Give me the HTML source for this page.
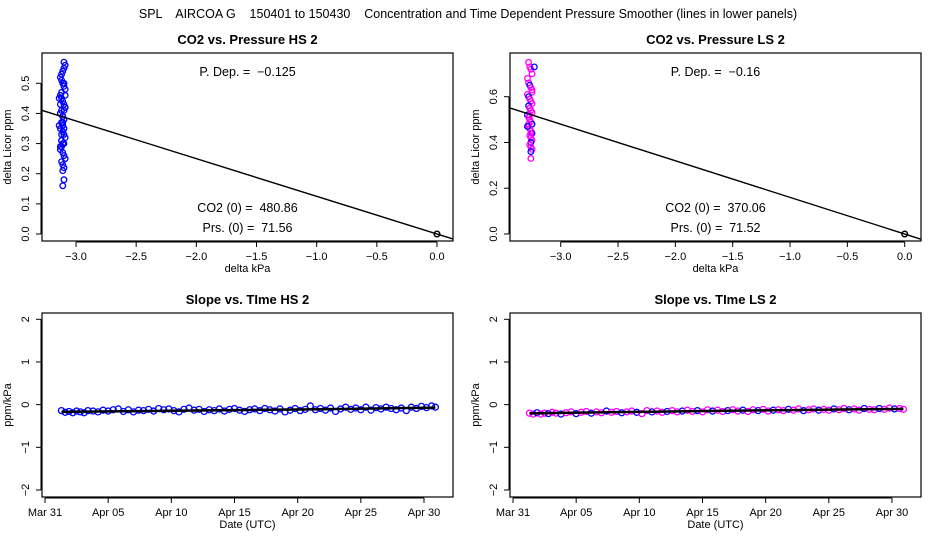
<!DOCTYPE html>
<html><head><meta charset="utf-8">
<style>
html,body{margin:0;padding:0;background:#fff;}
svg{display:block;font-family:"Liberation Sans",sans-serif;}
svg text{white-space:pre;}
</style></head>
<body>
<svg id="chart" width="936" height="540" viewBox="0 0 936 540" xmlns="http://www.w3.org/2000/svg" xml:space="preserve">
<rect width="936" height="540" fill="#fff"/>
<text x="468" y="18" font-size="12.5" text-anchor="middle">SPL    AIRCOA G    150401 to 150430    Concentration and Time Dependent Pressure Smoother (lines in lower panels)</text>
</svg>
<script>
// ---- data ----
const hsPresX = [-3.10,-3.09,-3.10,-3.11,-3.12,-3.13,-3.12,-3.11,-3.10,-3.09,-3.12,-3.13,-3.14,-3.11,-3.10,-3.09,-3.12,-3.13,-3.11,-3.10,-3.12,-3.14,-3.13,-3.11,-3.10,-3.09,-3.12,-3.11,-3.10,-3.12,-3.13,-3.11,-3.10,-3.09,-3.12,-3.11,-3.10,-3.11,-3.10,-3.11,-3.12,-3.10,-3.11,-3.12,-3.13,-3.11,-3.09,-3.13,-3.10,-3.12,-3.09,-3.11,-3.13,-3.10];
const hsCo2Y  = [0.57,0.56,0.55,0.54,0.53,0.52,0.51,0.50,0.49,0.48,0.47,0.46,0.45,0.44,0.43,0.42,0.41,0.40,0.39,0.38,0.37,0.36,0.35,0.34,0.33,0.32,0.31,0.30,0.30,0.29,0.28,0.27,0.26,0.25,0.24,0.23,0.22,0.21,0.18,0.16,0.45,0.41,0.37,0.33,0.43,0.39,0.46,0.40,0.35,0.31,0.42,0.36,0.29,0.50];
const lsPresX = [-3.28,-3.27,-3.26,-3.23,-3.25,-3.29,-3.28,-3.27,-3.26,-3.25,-3.29,-3.28,-3.27,-3.26,-3.25,-3.28,-3.27,-3.26,-3.25,-3.29,-3.28,-3.27,-3.26,-3.25,-3.28,-3.27,-3.26,-3.25,-3.27,-3.26,-3.25,-3.26,-3.27,-3.26,-3.25,-3.26,-3.28,-3.27,-3.26,-3.29,-3.25,-3.27,-3.26];
const lsCo2Y  = [0.75,0.73,0.72,0.73,0.70,0.68,0.66,0.65,0.64,0.62,0.61,0.60,0.59,0.58,0.57,0.56,0.55,0.54,0.53,0.52,0.51,0.50,0.49,0.48,0.47,0.46,0.45,0.44,0.43,0.42,0.41,0.40,0.39,0.38,0.37,0.36,0.48,0.55,0.33,0.47,0.63,0.52,0.44];
const hsSlopeFit = -0.125, lsSlopeFit = -0.16;
const tsDays = [1.3,1.6,1.9,2.2,2.5,2.8,3.1,3.4,3.8,4.2,4.6,5.0,5.4,5.8,6.2,6.6,7.0,7.4,7.8,8.2,8.6,9.0,9.4,9.8,10.2,10.6,11.0,11.4,11.8,12.2,12.6,13.0,13.4,13.8,14.2,14.6,15.0,15.4,15.8,16.2,16.6,17.0,17.4,17.8,18.2,18.6,19.0,19.4,19.8,20.2,20.6,21.0,21.4,21.8,22.2,22.6,23.0,23.4,23.8,24.2,24.6,25.0,25.4,25.8,26.2,26.6,27.0,27.4,27.8,28.2,28.6,29.0,29.4,29.8,30.2,30.6,30.9];
const hsSlopes = [-0.14,-0.18,-0.16,-0.19,-0.15,-0.17,-0.19,-0.14,-0.15,-0.17,-0.13,-0.15,-0.12,-0.10,-0.16,-0.12,-0.17,-0.13,-0.14,-0.11,-0.15,-0.09,-0.12,-0.10,-0.14,-0.17,-0.11,-0.08,-0.13,-0.11,-0.16,-0.12,-0.14,-0.10,-0.15,-0.11,-0.09,-0.13,-0.16,-0.12,-0.10,-0.14,-0.09,-0.12,-0.15,-0.10,-0.17,-0.13,-0.09,-0.14,-0.11,-0.03,-0.12,-0.09,-0.13,-0.08,-0.16,-0.10,-0.06,-0.11,-0.08,-0.12,-0.06,-0.13,-0.07,-0.10,-0.06,-0.09,-0.12,-0.08,-0.14,-0.06,-0.09,-0.04,-0.07,-0.03,-0.06];
const hsSmooth = [-0.17,-0.155,-0.14,-0.125,-0.11,-0.09,-0.07];
const lsSlopes = [-0.20,-0.22,-0.19,-0.22,-0.20,-0.21,-0.18,-0.20,-0.22,-0.19,-0.17,-0.21,-0.18,-0.16,-0.20,-0.17,-0.19,-0.15,-0.18,-0.16,-0.19,-0.17,-0.15,-0.18,-0.21,-0.14,-0.17,-0.15,-0.18,-0.16,-0.14,-0.17,-0.15,-0.13,-0.16,-0.14,-0.17,-0.12,-0.15,-0.13,-0.16,-0.14,-0.12,-0.15,-0.13,-0.16,-0.12,-0.14,-0.11,-0.15,-0.13,-0.12,-0.14,-0.11,-0.13,-0.10,-0.14,-0.12,-0.10,-0.13,-0.11,-0.13,-0.10,-0.12,-0.09,-0.12,-0.10,-0.13,-0.09,-0.11,-0.12,-0.09,-0.11,-0.08,-0.10,-0.09,-0.11];
const lsSmooth = [-0.205,-0.185,-0.165,-0.145,-0.13,-0.115,-0.10];
const smoothDays = [1.3,6,11,16,21,26,30.9];
const xTicksPres = [-3.0,-2.5,-2.0,-1.5,-1.0,-0.5,0.0];
const yTicksHS = [0.0,0.1,0.2,0.3,0.4,0.5];
const yTicksLS = [0.0,0.2,0.4,0.6];
const yTicksSlope = [-2,-1,0,1,2];
const dateTickDays = [0,5,10,15,20,25,30];
const dateTickLabels = ["Mar 31","Apr 05","Apr 10","Apr 15","Apr 20","Apr 25","Apr 30"];

// ---- helpers ----
const svg = document.getElementById('chart');
const NS = 'http://www.w3.org/2000/svg';
function mk(tag, attrs, parent){const e=document.createElementNS(NS,tag);for(const k in attrs)e.setAttribute(k,attrs[k]);(parent||svg).appendChild(e);return e;}
function txt(s, attrs, parent){const e=mk('text',attrs,parent);e.textContent=s;return e;}
function lin(d0,d1,r0,r1){return v=>r0+(v-d0)*(r1-r0)/(d1-d0);}

function panel(o){
  const g=mk('g',{});
  
  
  const b=mk('rect',{x:o.L,y:o.T,width:o.R-o.L,height:o.B-o.T,fill:'none',stroke:'#000','stroke-width':1.2},g);
  
  
  const t=txt(o.title,{x:(o.L+o.R)/2,y:o.T-9,'font-size':13,'font-weight':'bold','text-anchor':'middle'},g);
  
  
  const xa=mk('g',{},g);
  
  
  const xp0=o.sx(o.xt[0]), xp1=o.sx(o.xt[o.xt.length-1]);
  mk('line',{x1:xp0,x2:xp1,y1:o.B+1,y2:o.B+1,stroke:'#000'},xa);
  o.xt.forEach((v,i)=>{const x=o.sx(v);mk('line',{x1:x,x2:x,y1:o.B+1,y2:o.B+6,stroke:'#000'},xa);
    const lb=txt(o.xl[i],{x:x,y:o.B+19,'font-size':11,'text-anchor':'middle'},xa);
    
    });
  const xt=txt(o.xlab,{x:(o.L+o.R)/2,y:o.B+31,'font-size':11,'text-anchor':'middle'},g);
  
  
  const ya=mk('g',{},g);
  
  
  mk('line',{x1:o.L-1,x2:o.L-1,y1:o.sy(o.yt[0]),y2:o.sy(o.yt[o.yt.length-1]),stroke:'#000'},ya);
  o.yt.forEach(v=>{const y=o.sy(v);mk('line',{x1:o.L-6,x2:o.L-1,y1:y,y2:y,stroke:'#000'},ya);
    const lb=txt(o.yfmt(v),{x:o.L-13,y:y,'font-size':11,'text-anchor':'middle',transform:`rotate(-90 ${o.L-13} ${y})`},ya);
    
    });
  const yx=o.L-31, yy=(o.T+o.B)/2;
  const yt=txt(o.ylab,{x:yx,y:yy,'font-size':11,'text-anchor':'middle',transform:`rotate(-90 ${yx} ${yy})`},g);
  
  
  return g;
}
function clip(id,o){const c=mk('clipPath',{id:id});mk('rect',{x:o.L,y:o.T,width:o.R-o.L,height:o.B-o.T},c);}

function scatterPanel(o, xs, ys, slope, colors, texts){
  const g=panel(o); clip(o.name+'-clip',o);
  const pts=mk('g',{},g);
  
  
  xs.forEach((x,i)=>{const c=mk('circle',{cx:o.sx(x),cy:o.sy(ys[i]),r:2.8,fill:'none',stroke:colors[i%colors.length],'stroke-width':1.3},pts);
    
    });
  const x0=o.sx(-4), x1=o.sx(0.5);
  const fl=mk('line',{x1:x0,y1:o.sy(slope*-4),x2:x1,y2:o.sy(slope*0.5),stroke:'#000','stroke-width':1.4,'clip-path':`url(#${o.name}-clip)`},g);
  
  
  const oc=mk('circle',{cx:o.sx(0),cy:o.sy(0),r:2.8,fill:'none',stroke:'#000','stroke-width':1.5},g);
  
  
  const mid=(o.L+o.R)/2;
  const a=txt(texts[0],{x:mid,y:o.T+23,'font-size':12.5,'text-anchor':'middle'},g);
  
  
  const b=txt(texts[1],{x:mid,y:o.T+159,'font-size':12.5,'text-anchor':'middle'},g);
  
  
  const c=txt(texts[2],{x:mid,y:o.T+179,'font-size':12.5,'text-anchor':'middle'},g);
  
  
}
const fmtX=v=>v.toFixed(1).replace('-','\u2212');
const hsTop={name:'co2-vs-pressure-hs',L:42,R:453,T:53,B:241,title:'CO2 vs. Pressure HS 2',
  sx:lin(-3,0,76,437),sy:lin(0,0.5,234,83.3),xt:xTicksPres,xl:xTicksPres.map(fmtX),yt:yTicksHS,yfmt:v=>v.toFixed(1),xlab:'delta kPa',ylab:'delta Licor ppm'};
scatterPanel(hsTop,hsPresX,hsCo2Y,hsSlopeFit,['#0000ff'],['P. Dep. =  \u22120.125','CO2 (0) =  480.86','Prs. (0) =  71.56']);
const lsTop={name:'co2-vs-pressure-ls',L:510,R:921,T:53,B:241,title:'CO2 vs. Pressure LS 2',
  sx:lin(-3,0,560.7,904.7),sy:lin(0,0.6,234,96.7),xt:xTicksPres,xl:xTicksPres.map(fmtX),yt:yTicksLS,yfmt:v=>v.toFixed(1),xlab:'delta kPa',ylab:'delta Licor ppm'};
scatterPanel(lsTop,lsPresX,lsCo2Y,lsSlopeFit,['#ff00ff','#ff00ff','#ff00ff','#0000ff'],['P. Dep. =  \u22120.16','CO2 (0) =  370.06','Prs. (0) =  71.52']);

function tsPanel(o, vals, smooth, colors){
  const g=panel(o);
  const pts=mk('g',{},g);
  
  
  const sl=mk('polyline',{points:smoothDays.map((d,i)=>o.sx(d)+','+o.sy(smooth[i])).join(' '),fill:'none',stroke:'#000','stroke-width':2.5},g);
  
  
  tsDays.forEach((d,i)=>{const c=mk('circle',{cx:o.sx(d),cy:o.sy(vals[i]),r:3,fill:'none',stroke:colors[i%colors.length],'stroke-width':1.3},pts);
    
    });
  g.appendChild(sl);
}
const fmtY=v=>String(v).replace('-','\u2212');
const hsBot={name:'slope-vs-time-hs',L:42,R:453,T:313,B:497,title:'Slope vs. TIme HS 2',
  sx:lin(0,30,45,424),sy:lin(-2,2,490,319.3),xt:dateTickDays,xl:dateTickLabels,yt:yTicksSlope,yfmt:fmtY,xlab:'Date (UTC)',ylab:'ppm/kPa'};
tsPanel(hsBot,hsSlopes,hsSmooth,['#0000ff']);
const lsBot={name:'slope-vs-time-ls',L:510,R:921,T:313,B:497,title:'Slope vs. TIme LS 2',
  sx:lin(0,30,513,892),sy:lin(-2,2,490,319.3),xt:dateTickDays,xl:dateTickLabels,yt:yTicksSlope,yfmt:fmtY,xlab:'Date (UTC)',ylab:'ppm/kPa'};
tsPanel(lsBot,lsSlopes,lsSmooth,['#ff00ff','#ff00ff','#0000ff']);
</script>
</body></html>
